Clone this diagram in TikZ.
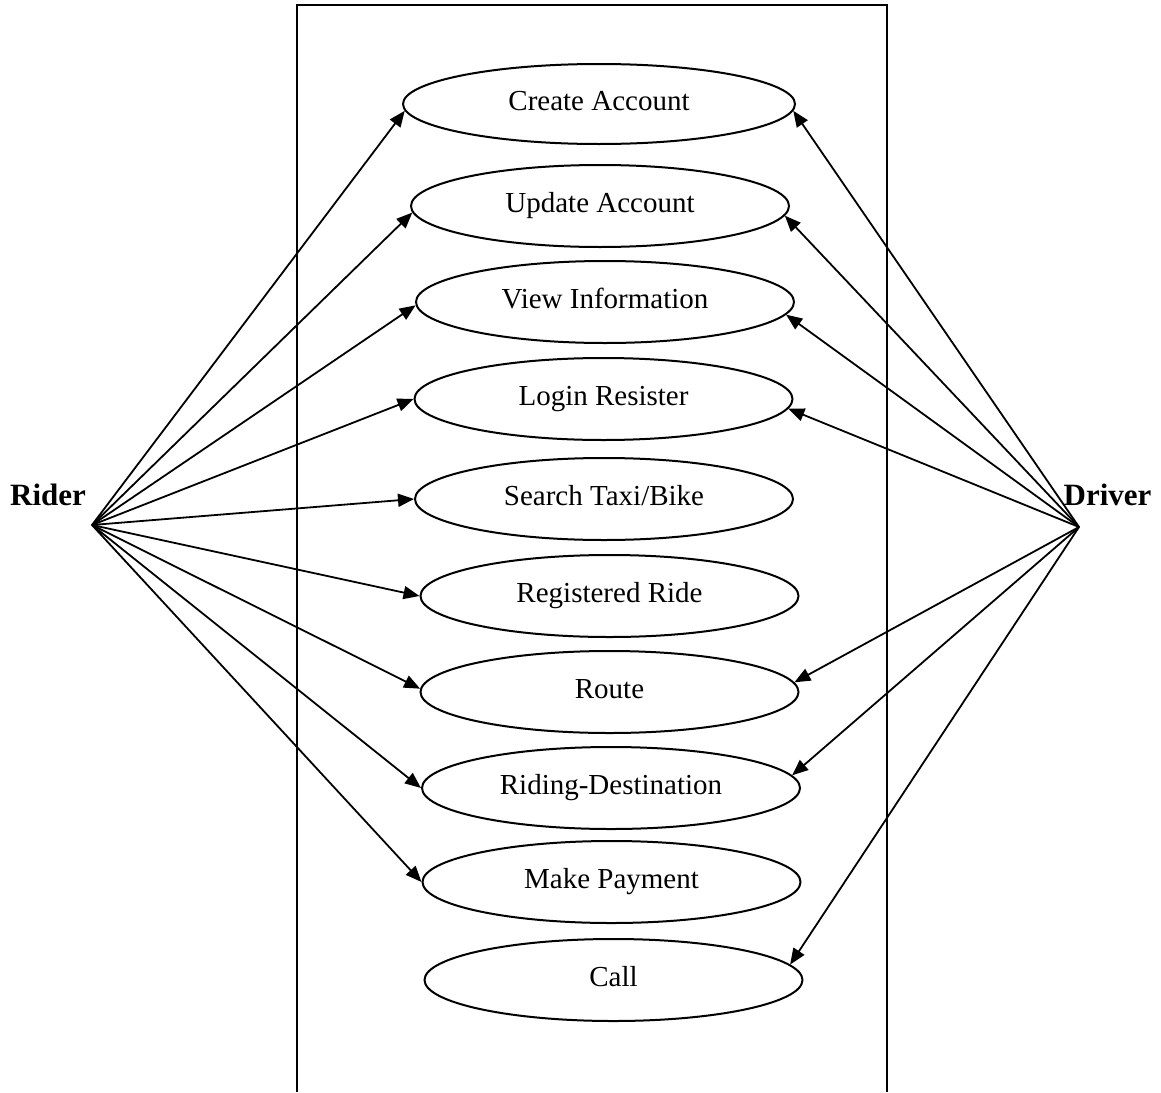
\documentclass[tikz,border=0pt]{standalone}
\usepackage{fontspec}
\setmainfont{Liberation Serif}
\usetikzlibrary{positioning,shapes,arrows.meta}

\begin{document}
\begin{tikzpicture}[
  x=0.5pt,y=-0.5pt,
  usecase/.style={draw,ellipse,line width=1pt,minimum width=189pt,minimum height=41pt,inner sep=0pt,text height=0.66em,text depth=0pt},
  actor/.style={font=\fontsize{15.5}{18}\selectfont\bfseries,anchor=base,inner sep=0pt},
  assoc/.style={line width=0.9pt,-{Triangle[length=8pt,width=6.5pt]}},
  font=\fontsize{14.5}{17}\selectfont
]
\useasboundingbox (0,0) rectangle (1161,1092);
% system boundary
\draw[line width=1pt] (296.5,1092) -- (296.5,5) -- (886.5,5) -- (886.5,1092);
% use cases
\node[usecase,minimum width=196pt,minimum height=40pt] (ca) at (599,104) {Create Account};
\node[usecase] (ua) at (600,206) {Update Account};
\node[usecase] (vi) at (605,302) {View Information};
\node[usecase] (lr) at (603.5,399) {Login Resister};
\node[usecase] (st) at (604,499) {Search Taxi/Bike};
\node[usecase] (rr) at (609.5,596) {Registered Ride};
\node[usecase] (ro) at (609.5,692) {Route};
\node[usecase] (rd) at (611,788) {Riding-Destination};
\node[usecase] (mp) at (611.5,882) {Make Payment};
\node[usecase] (cl) at (613.5,980) {Call};
% actors
\node[actor] (rider) at (48,505) {Rider};
\node[actor] (driver) at (1107.5,505) {Driver};
\coordinate (riderpt) at (92,525);
\coordinate (driverpt) at (1079,527);
\path (riderpt) edge[assoc] (ca.182)
(riderpt) edge[assoc] (ua.182)
(riderpt) edge[assoc] (vi.181)
(riderpt) edge[assoc] (lr.west)
(riderpt) edge[assoc] (st.west)
(riderpt) edge[assoc] (rr.west)
(riderpt) edge[assoc] (ro.179)
(riderpt) edge[assoc] (rd.west)
(riderpt) edge[assoc] (mp.west);
\path (driverpt) edge[assoc] (ca.-2)
(driverpt) edge[assoc] (ua.-3)
(driverpt) edge[assoc] (vi.-4)
(driverpt) edge[assoc] (lr.-3)
(driverpt) edge[assoc] (ro.3)
(driverpt) edge[assoc] (rd.4)
(driverpt) edge[assoc] (cl.5);
\end{tikzpicture}
\end{document}
